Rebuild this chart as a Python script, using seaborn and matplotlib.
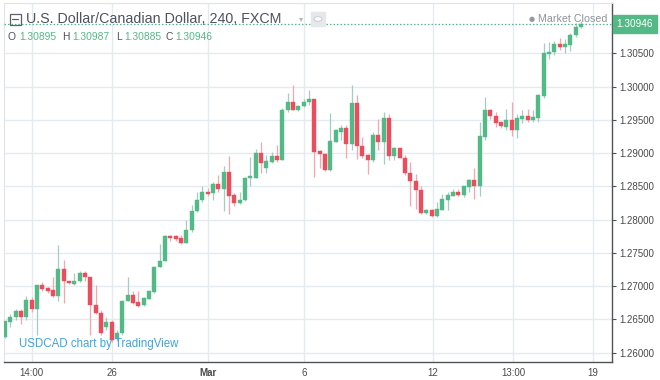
import numpy as np
import pandas as pd
import matplotlib
matplotlib.use("Agg")
import matplotlib.pyplot as plt
import matplotlib.transforms as mtransforms
from matplotlib.patches import Rectangle, Circle
from matplotlib.lines import Line2D
import seaborn as sns

# ---------------- data (USD/CAD, 240 min candles) ----------------
opens = [1.2624, 1.2646, 1.2653, 1.2663, 1.2654, 1.2679, 1.2665, 1.2702, 1.2697, 1.2694,
         1.2685, 1.2726, 1.2707, 1.2703, 1.2707, 1.2720, 1.2713, 1.2671, 1.2659, 1.2638,
         1.2646, 1.2620, 1.2629, 1.2678, 1.2687, 1.2676, 1.2671, 1.2681, 1.2691, 1.2729,
         1.2738, 1.2776, 1.2775, 1.2772, 1.2765, 1.2784, 1.2813, 1.2829, 1.2841, 1.2840,
         1.2854, 1.2846, 1.2872, 1.2837, 1.2825, 1.2829, 1.2862, 1.2863, 1.2900, 1.2877,
         1.2887, 1.2896, 1.2890, 1.2964, 1.2977, 1.2965, 1.2970, 1.2977, 1.2981, 1.2903,
         1.2899, 1.2874, 1.2917, 1.2932, 1.2938, 1.2913, 1.2975, 1.2911, 1.2897, 1.2890,
         1.2927, 1.2916, 1.2952, 1.2895, 1.2907, 1.2893, 1.2870, 1.2858, 1.2845, 1.2810,
         1.2815, 1.2805, 1.2815, 1.2830, 1.2836, 1.2842, 1.2837, 1.2849, 1.2859, 1.2850,
         1.2924, 1.2965, 1.2956, 1.2946, 1.2939, 1.2949, 1.2935, 1.2951, 1.2955, 1.2949,
         1.2952, 1.2986, 1.3049, 1.3052, 1.3064, 1.3060, 1.3063, 1.3077, 1.30895]
highs = [1.2648, 1.2658, 1.2666, 1.2666, 1.2685, 1.2683, 1.2702, 1.2706, 1.2699, 1.2714,
         1.2761, 1.2739, 1.2708, 1.2719, 1.2722, 1.2722, 1.2713, 1.2702, 1.2664, 1.2654,
         1.2649, 1.2634, 1.2679, 1.2713, 1.2692, 1.2692, 1.2683, 1.2694, 1.2730, 1.2763,
         1.2777, 1.2777, 1.2777, 1.2777, 1.2799, 1.2822, 1.2842, 1.2850, 1.2847, 1.2856,
         1.2867, 1.2881, 1.2896, 1.2840, 1.2842, 1.2864, 1.2894, 1.2906, 1.2917, 1.2897,
         1.2901, 1.2912, 1.2967, 1.2990, 1.3002, 1.2972, 1.2982, 1.2995, 1.2982, 1.2905,
         1.2900, 1.2960, 1.2936, 1.2942, 1.2942, 1.3002, 1.2988, 1.2924, 1.2898, 1.2931,
         1.2951, 1.2961, 1.2958, 1.2909, 1.2908, 1.2897, 1.2886, 1.2868, 1.2850, 1.2816,
         1.2816, 1.2826, 1.2839, 1.2842, 1.2846, 1.2846, 1.2851, 1.2861, 1.2877, 1.2947,
         1.2985, 1.2966, 1.2962, 1.2947, 1.2966, 1.2977, 1.2958, 1.2965, 1.2966, 1.2964,
         1.2989, 1.3065, 1.3067, 1.3068, 1.3073, 1.3071, 1.3080, 1.3095, 1.30987]
lows = [1.2622, 1.2639, 1.2649, 1.2643, 1.2649, 1.2661, 1.2626, 1.2692, 1.2690, 1.2683,
        1.2677, 1.2674, 1.2703, 1.2702, 1.2706, 1.2707, 1.2626, 1.2658, 1.2626, 1.2634,
        1.2616, 1.2618, 1.2627, 1.2677, 1.2673, 1.2669, 1.2670, 1.2680, 1.2690, 1.2728,
        1.2737, 1.2767, 1.2768, 1.2763, 1.2764, 1.2782, 1.2812, 1.2827, 1.2836, 1.2829,
        1.2842, 1.2813, 1.2809, 1.2820, 1.2824, 1.2828, 1.2851, 1.2862, 1.2870, 1.2870,
        1.2885, 1.2887, 1.2889, 1.2962, 1.2964, 1.2963, 1.2969, 1.2973, 1.2864, 1.2877,
        1.2873, 1.2873, 1.2916, 1.2920, 1.2892, 1.2905, 1.2891, 1.2892, 1.2869, 1.2886,
        1.2905, 1.2883, 1.2890, 1.2889, 1.2892, 1.2867, 1.2821, 1.2816, 1.2809, 1.2809,
        1.2804, 1.2804, 1.2814, 1.2815, 1.2835, 1.2835, 1.2834, 1.2841, 1.2831, 1.2835,
        1.2920, 1.2951, 1.2939, 1.2937, 1.2935, 1.2925, 1.2922, 1.2945, 1.2947, 1.2947,
        1.2946, 1.2983, 1.3042, 1.3047, 1.3055, 1.3050, 1.3054, 1.3074, 1.30885]
closes = [1.2647, 1.2653, 1.2663, 1.2654, 1.2679, 1.2665, 1.2702, 1.2696, 1.2693, 1.2685,
          1.2726, 1.2707, 1.2704, 1.2708, 1.2720, 1.2713, 1.2671, 1.2659, 1.2629, 1.2646,
          1.2619, 1.2629, 1.2678, 1.2687, 1.2675, 1.2670, 1.2682, 1.2692, 1.2729, 1.2738,
          1.2776, 1.2772, 1.2771, 1.2765, 1.2784, 1.2813, 1.2830, 1.2841, 1.2838, 1.2854,
          1.2846, 1.2872, 1.2836, 1.2825, 1.2830, 1.2863, 1.2865, 1.2900, 1.2885, 1.2888,
          1.2896, 1.2890, 1.2965, 1.2977, 1.2965, 1.2971, 1.2977, 1.2981, 1.2902, 1.2898,
          1.2874, 1.2918, 1.2934, 1.2938, 1.2913, 1.2975, 1.2910, 1.2896, 1.2890, 1.2927,
          1.2916, 1.2952, 1.2895, 1.2907, 1.2893, 1.2870, 1.2858, 1.2844, 1.2810, 1.2815,
          1.2805, 1.2816, 1.2831, 1.2837, 1.2842, 1.2837, 1.2850, 1.2859, 1.2850, 1.2925,
          1.2965, 1.2955, 1.2945, 1.2940, 1.2949, 1.2935, 1.2952, 1.2955, 1.2949, 1.2954,
          1.2987, 1.3050, 1.3052, 1.3064, 1.3060, 1.3064, 1.3077, 1.3090, 1.30946]

price_ticks = [1.260, 1.265, 1.270, 1.275, 1.280, 1.285, 1.290, 1.295, 1.300, 1.305]
time_tick_pos = [5.0, 20.0, 38.1, 56.1, 80.2, 95.3, 110.3]
time_tick_labels = ["14:00", "26", "Mar", "6", "12", "13:00", "19"]
title_text = "U.S. Dollar/Canadian Dollar, 240, FXCM"
legend_keys = ["O", "H", "L", "C"]
legend_vals = ["1.30895", "1.30987", "1.30885", "1.30946"]
last_price_label = "1.30946"
watermark = "USDCAD chart by TradingView"
status_text = "Market Closed"

# ---------------- style ----------------
sns.set_theme(style="white")
plt.rcParams["font.family"] = ["Liberation Sans", "DejaVu Sans"]

UP = "#53b987"
DOWN = "#eb4d5c"
UP_WICK = "#a4cbc4"
DOWN_WICK = "#f4a7af"
GRID = "#e4ebf0"
AXIS = "#4f5257"
TXT = "#4a4a4a"

W, H = 660, 380
fig = plt.figure(figsize=(6.6, 3.8), dpi=100)
fig.patch.set_facecolor("white")

def fx(px):
    return px / W

def fy(py):
    return 1 - py / H

ax_left, ax_right, ax_top, ax_bot = 4, 612, 3, 362
ax = fig.add_axes([fx(ax_left), fy(ax_bot), fx(ax_right - ax_left), (ax_bot - ax_top) / H])
ax.set_facecolor("white")

df = pd.DataFrame({"o": opens, "h": highs, "l": lows, "c": closes})
df["i"] = np.arange(len(df))
df["up"] = df["c"] >= df["o"]
df["bottom"] = df[["o", "c"]].min(axis=1)
df["height"] = (df["c"] - df["o"]).abs().clip(lower=0.00012)

# x-scale: index 0 at pixel 5, 5.333 px per candle
px_per = 5.333
ax.set_xlim((ax_left - 5) / px_per, (ax_right - 5) / px_per)
# y-scale: 1.305 at pixel 53.3, 0.005 per 33.25 px
pp = 0.005 / 33.25
ax.set_ylim(1.305 - (ax_bot - 53.3) * pp, 1.305 + (53.3 - ax_top) * pp)

# grid
for t in price_ticks:
    ax.axhline(t, color=GRID, lw=1, zorder=0)
for t in time_tick_pos:
    ax.axvline(t, color=GRID, lw=1, zorder=0)

# wicks
for up, wc in [(True, UP_WICK), (False, DOWN_WICK)]:
    d = df[df["up"] == up]
    ax.vlines(d["i"], d["l"], d["h"], color=wc, lw=0.9, zorder=2)
# bodies
for up, bc in [(True, UP), (False, DOWN)]:
    d = df[df["up"] == up]
    ax.bar(d["i"], d["height"], bottom=d["bottom"], width=0.74, color=bc,
           edgecolor=bc, linewidth=0.3, zorder=3)

# last price dotted line
last_c = closes[-1]
ax.axhline(last_c, color=UP, lw=0.9, ls=(0, (1.2, 1.6)), zorder=4)

# axes / spines
for s in ["top", "left"]:
    ax.spines[s].set_color("#e0e3e8")
    ax.spines[s].set_linewidth(0.8)
for s in ["right", "bottom"]:
    ax.spines[s].set_color(AXIS)
    ax.spines[s].set_linewidth(1.0)

ax.yaxis.tick_right()
ax.set_yticks(price_ticks)
ax.set_yticklabels([f"{t:.5f}" for t in price_ticks])
ax.tick_params(axis="y", which="both", right=True, left=False, length=3, width=0.8,
               color=AXIS, pad=2, labelsize=7, labelcolor=TXT)
ax.set_xticks(time_tick_pos)
ax.set_xticklabels(time_tick_labels)
ax.tick_params(axis="x", bottom=False, length=0, pad=4, labelsize=7, labelcolor=TXT)
for lab in ax.get_xticklabels():
    if lab.get_text() == "Mar":
        lab.set_fontweight("bold")
ax.set_xlabel("")
ax.set_ylabel("")

# last price label on the axis
trans = mtransforms.blended_transform_factory(ax.transAxes, ax.transData)
ax.text(1.0 + 4.5 / (ax_right - ax_left), last_c, last_price_label, transform=trans,
        ha="left", va="center", fontsize=7.2, color="white", zorder=6, clip_on=False,
        bbox=dict(boxstyle="square,pad=0.4", fc=UP, ec=UP))

# title row
fig.text(fx(26), fy(19), title_text, fontsize=10.3, color="#4c525e", ha="left", va="center")
# collapse icon
fig.patches.append(Rectangle((fx(9.5), fy(24.5)), fx(11), 11 / H, fill=False, ec="#5d606b",
                             lw=0.9, transform=fig.transFigure, figure=fig))
fig.lines.append(Line2D([fx(12), fx(18)], [fy(19), fy(19)], color="#5d606b", lw=0.9,
                        transform=fig.transFigure, figure=fig))
# dropdown + settings icon
fig.text(fx(301), fy(19), "\u25be", fontsize=6, color="#b2b5be", ha="center", va="center",
         family=["DejaVu Sans"])
fig.patches.append(Rectangle((fx(311), fy(26)), fx(14), 14 / H, fc="#e6e8ec", ec="#e6e8ec",
                             transform=fig.transFigure, figure=fig))
fig.patches.append(Circle((fx(318), fy(19)), 0.006, fc="white", ec="#c8cbd2", lw=0.7,
                          transform=fig.transFigure, figure=fig))

# OHLC legend
key_x = [8, 62, 116, 166]
val_x = [19, 72, 124, 175]
for k, v, kx, vx in zip(legend_keys, legend_vals, key_x, val_x):
    fig.text(fx(kx), fy(37), k, fontsize=7.4, color="#4c525e", ha="left", va="center")
    fig.text(fx(vx), fy(37), v, fontsize=7.4, color=UP, ha="left", va="center")

# market closed status
fig.text(fx(531.5), fy(18.5), "\u25cf", fontsize=5, color="#9598a1", ha="center", va="center",
         family=["DejaVu Sans"])
fig.text(fx(538), fy(18.5), status_text, fontsize=7.7, color="#8f939a", ha="left", va="center")

# watermark
fig.text(fx(19), fy(344), watermark, fontsize=8.3, color="#3ea4e0", ha="left", va="center")

fig.savefig("out.png", dpi=100, facecolor="white")
